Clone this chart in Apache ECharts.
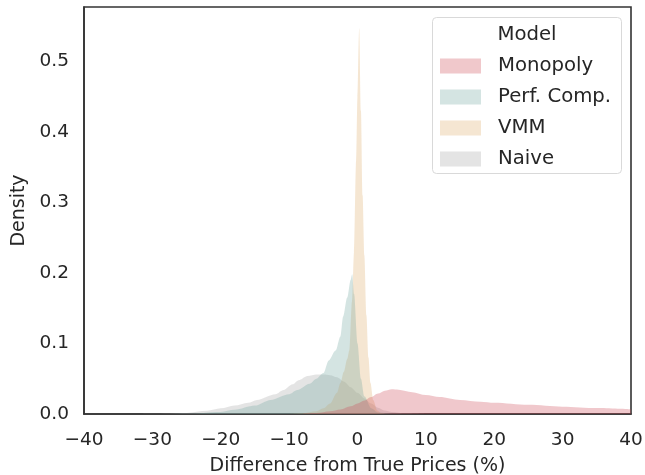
<!DOCTYPE html>
<html>
<head>
<meta charset="utf-8">
<script src="https://cdn.jsdelivr.net/npm/echarts@6/dist/echarts.min.js"></script>
<style>
html,body{margin:0;padding:0;background:#fff;}
#chart{width:645px;height:475px;}
</style>
</head>
<body>
<div id="chart"></div>
<script>
// ---- Data ----
var seriesNames = ['Monopoly', 'Perf. Comp.', 'VMM', 'Naive'];

var xMonopoly = [-8, -6, -4, -2.5, -1, 0, 1, 2, 3, 4, 5, 6, 8, 10, 12, 15, 18, 20, 25, 30, 35, 40];
var yMonopoly = [0.0005, 0.0015, 0.004, 0.0065, 0.011, 0.015, 0.019, 0.024, 0.029, 0.033, 0.035, 0.0345, 0.031, 0.027, 0.024, 0.020, 0.0175, 0.016, 0.013, 0.0104, 0.0085, 0.0067];

var xPerfComp = [-28, -25, -20, -18, -15, -12.7, -10, -8.8, -7, -6, -5, -4.2, -3.2, -2.5, -2.1, -1.5, -1, -0.78, -0.5, 0, 0.5, 1, 2, 3, 5];
var yPerfComp = [0, 0.0004, 0.003, 0.006, 0.012, 0.020, 0.028, 0.034, 0.043, 0.050, 0.058, 0.076, 0.090, 0.110, 0.138, 0.165, 0.190, 0.198, 0.170, 0.100, 0.050, 0.025, 0.008, 0.002, 0];

var xVMM = [-10, -8, -6, -5, -4, -3, -2.5, -2, -1.5, -1.2, -0.8, -0.5, -0.2, 0, 0.25, 0.5, 0.75, 1.0, 1.3, 1.6, 1.9, 2.3, 2.9, 3.5, 4];
var yVMM = [0, 0.001, 0.004, 0.008, 0.015, 0.030, 0.044, 0.060, 0.078, 0.090, 0.160, 0.230, 0.360, 0.450, 0.547, 0.430, 0.310, 0.225, 0.140, 0.080, 0.044, 0.020, 0.005, 0.001, 0];

var xNaive = [-32, -30, -25, -22, -20, -18, -16, -14.7, -12, -10.8, -9.5, -8.6, -7.3, -6, -5, -4, -3, -2, -1, 0, 1, 2, 3, 4, 5, 7, 10];
var yNaive = [0, 0.0003, 0.0015, 0.0045, 0.008, 0.012, 0.016, 0.020, 0.028, 0.034, 0.042, 0.048, 0.054, 0.056, 0.056, 0.055, 0.052, 0.046, 0.038, 0.030, 0.022, 0.015, 0.009, 0.005, 0.003, 0.001, 0];

var xTicks = [-40, -30, -20, -10, 0, 10, 20, 30, 40];
var yTicks = [0.0, 0.1, 0.2, 0.3, 0.4, 0.5];

// ---- Styles ----
var baseColors = {
  'Monopoly': 'rgb(205,72,85)',
  'Perf. Comp.': 'rgb(112,165,158)',
  'VMM': 'rgb(222,172,105)',
  'Naive': 'rgb(165,165,165)'
};
var legendColors = {
  'Monopoly': '#f0c8cb',
  'Perf. Comp.': '#d4e4e2',
  'VMM': '#f5e6d2',
  'Naive': '#e4e4e4'
};
var FONT = 'DejaVu Sans';
var TXT = '#262626';

function pairs(xs, ys) {
  return xs.map(function (x, i) { return [x, ys[i]]; });
}
function fmtX(v) {
  return v < 0 ? '\u2212' + Math.abs(v) : String(v);
}

function mkSeries(name, xs, ys) {
  return {
    name: name,
    type: 'line',
    data: pairs(xs, ys),
    showSymbol: false,
    smooth: 0.3,
    smoothMonotone: 'x',
    lineStyle: { width: 0, color: baseColors[name], opacity: 0 },
    itemStyle: { color: legendColors[name] },
    areaStyle: { color: baseColors[name], opacity: 0.3 },
    silent: true,
    clip: true
  };
}

var chart = echarts.init(document.getElementById('chart'), null, { renderer: 'canvas' });
var option = {
  animation: false,
  backgroundColor: '#ffffff',
  grid: {
    left: 84, right: 14, top: 7, bottom: 61,
    outerBoundsMode: 'none', containLabel: false,
    show: true, borderColor: '#333333', borderWidth: 1.6, backgroundColor: 'transparent'
  },
  xAxis: {
    type: 'value',
    min: xTicks[0], max: xTicks[xTicks.length - 1], interval: 10,
    name: 'Difference from True Prices (%)',
    nameLocation: 'middle', nameGap: 43,
    nameTextStyle: { fontFamily: FONT, fontSize: 19, color: TXT },
    axisLine: { show: true, onZero: false, lineStyle: { color: '#333333', width: 1.6 } },
    axisTick: { show: false },
    splitLine: { show: false },
    axisLabel: { margin: 17, fontFamily: FONT, fontSize: 18.5, color: TXT, formatter: fmtX }
  },
  yAxis: {
    type: 'value',
    min: yTicks[0], max: 0.577, interval: 0.1,
    name: 'Density',
    nameLocation: 'middle', nameGap: 55, nameRotate: 90,
    nameTextStyle: { fontFamily: FONT, fontSize: 19, color: TXT },
    axisLine: { show: true, onZero: false, lineStyle: { color: '#333333', width: 1.6 } },
    axisTick: { show: false },
    splitLine: { show: false },
    axisLabel: {
      margin: 15, fontFamily: FONT, fontSize: 18.5, color: TXT, showMaxLabel: false,
      padding: [9, 0, 0, 0],
      formatter: function (v) { return yTicks.some(function (t) { return Math.abs(t - v) < 1e-9; }) ? v.toFixed(1) : ''; }
    }
  },
  legend: {
    orient: 'vertical',
    left: 440, top: 56, z: 20,
    itemWidth: 41, itemHeight: 15, itemGap: 11,
    icon: 'rect',
    padding: 0,
    data: seriesNames.map(function (n) {
      return { name: n, icon: 'rect', itemStyle: { color: legendColors[n], opacity: 1 } };
    }),
    textStyle: { fontFamily: FONT, fontSize: 19.7, color: TXT, padding: [0, 0, 0, 12] },
    selectedMode: false
  },
  graphic: [
    {
      type: 'rect', left: 432, top: 17, z: 5,
      shape: { width: 189, height: 156, r: 4 },
      style: { fill: 'rgba(255,255,255,0.8)', stroke: '#d9d9d9', lineWidth: 1 }
    },
    {
      type: 'text', z: 10,
      x: 527, y: 35,
      style: { text: 'Model', fontFamily: FONT, fontSize: 19.7, fill: TXT, align: 'center', verticalAlign: 'middle' }
    }
  ],
  series: [
    mkSeries('Naive', xNaive, yNaive),
    mkSeries('VMM', xVMM, yVMM),
    mkSeries('Perf. Comp.', xPerfComp, yPerfComp),
    mkSeries('Monopoly', xMonopoly, yMonopoly)
  ]
};
chart.setOption(option);
</script>
</body>
</html>
